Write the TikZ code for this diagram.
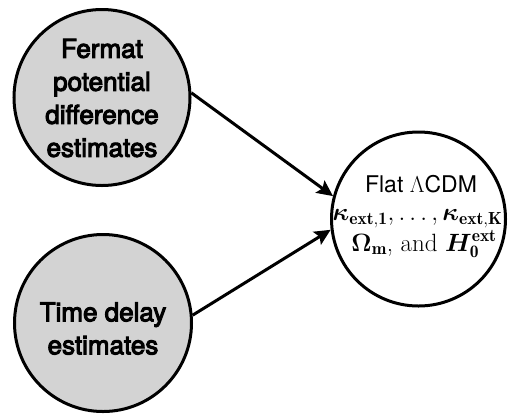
\RequirePackage{fix-cm}
\documentclass[tikz,border=0pt]{standalone}
\usepackage{amsmath,bm}
\usepackage{fontspec}
\newfontfamily\heros[FakeBold=4]{TeX Gyre Heros}
\newfontfamily\herosplain{TeX Gyre Heros}
\usetikzlibrary{arrows.meta}
\definecolor{nodegray}{RGB}{211,211,211}
\tikzset{
  bubble/.style={circle, draw=black, line width=3pt, inner sep=0pt},
  srcbubble/.style={bubble, fill=nodegray},
  srctext/.style={align=center, font=\heros\fontsize{26}{33}\selectfont, inner sep=0pt},
  tgtline/.style={anchor=base, inner sep=0pt, font=\fontsize{25}{28}\selectfont},
  link/.style={line width=3pt, -{Stealth[length=16pt, width=15pt, inset=3pt]}}
}
\begin{document}
\begin{tikzpicture}[x=1pt, y=-1pt]
\useasboundingbox (0,0) rectangle (518,416);
\fill[white] (0,0) rectangle (518,416);
\node[srcbubble, minimum size=176pt] (fermat) at (102,97.5) {};
\node[srcbubble, minimum size=177pt] (delay) at (103,323) {};
\node[bubble, fill=white, minimum size=174pt] (cosmo) at (418.5,219) {};
\node[srctext] (fermatlabel) at (102,98) {Fermat\\potential\\difference\\estimates};
\node[srctext] (delaylabel) at (103,328.5) {Time delay\\estimates};
\node[tgtline, font=\herosplain\fontsize{23}{26}\selectfont] (l1) at (421,192) {Flat $\Lambda$CDM};
\node[tgtline] (l2) at (417.5,220.5) {$\bm{\kappa}_{\mathbf{ext,1}},\ldots,\bm{\kappa}_{\mathbf{ext,K}}$};
\node[tgtline] (l3) at (424,251) {$\bm{\Omega}_{\mathbf{m}}$, and $\bm{H}_{\mathbf{0}}^{\mathbf{ext}}$};
\draw[link] (fermat.3) -- (cosmo.165);
\draw[link] (delay.5) -- (cosmo.187);
\end{tikzpicture}
\end{document}
